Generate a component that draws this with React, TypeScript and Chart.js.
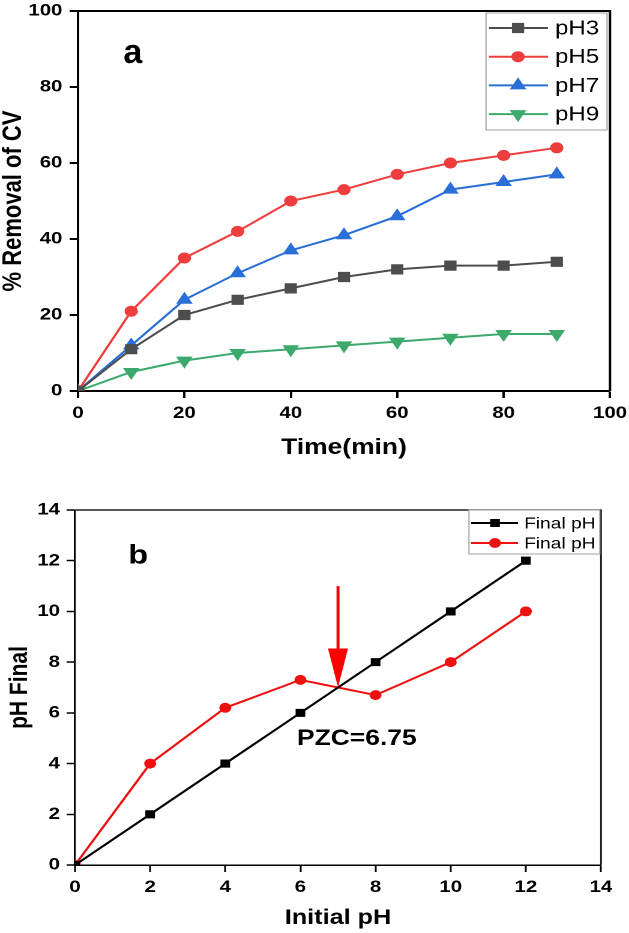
import React, { useEffect, useRef } from 'react';
import { Chart, registerables } from 'chart.js';
import { drawPoint } from 'chart.js/helpers';

Chart.register(...registerables);

// ---------- data: panel a ----------
const timeMin = [0, 10, 20, 30, 40, 50, 60, 70, 80, 90];
const removalPH3 = [0, 11, 20, 24, 27, 30, 32, 33, 33, 34];
const removalPH5 = [0, 21, 35, 42, 50, 53, 57, 60, 62, 64];
const removalPH7 = [0, 12, 24, 31, 37, 41, 46, 53, 55, 57];
const removalPH9 = [0, 5, 8, 10, 11, 12, 13, 14, 15, 15];
const seriesNamesA = ['pH3', 'pH5', 'pH7', 'pH9'];
const axisA = { xMin: 0, xMax: 100, xStep: 20, yMin: 0, yMax: 100, yStep: 20 };
const titlesA = { x: 'Time(min)', y: '% Removal of CV' };
const panelLabelA = { text: 'a', x: 10.3, y: 86.3 };

// ---------- data: panel b ----------
const initialPHBlack = [0, 2, 4, 6, 8, 10, 12];
const finalPHBlack = [0, 2, 4, 6, 8, 10, 12];
const initialPHRed = [0, 2, 4, 6, 7, 8, 10, 12];
const finalPHRed = [0, 4, 6.2, 7.3, 7.0, 6.7, 8, 10];
const seriesNamesB = ['Final pH', 'Final pH'];
const axisB = { min: 0, max: 14, step: 2 };
const titlesB = { x: 'Initial pH', y: 'pH Final' };
const panelLabelB = { text: 'b', x: 1.68, y: 11.9 };
const pzc = { text: 'PZC=6.75', labelX: 7.5, labelY: 4.73, pointX: 7, pointY: 7, arrowTopY: 11 };

// ---------- layout ----------
const S = 1.2; // horizontal stretch of the original figure
const PAGE_W = 629;
const IW = Math.round(PAGE_W / S); // internal canvas width
const SX = PAGE_W / IW; // exact css/internal ratio
const FONT = "'Liberation Sans', Arial, Helvetica, sans-serif";

const A_H = 475;
const B_TOP = 480;
const B_H = 453;

function drawLegend(chart: any, cfg: any) {
  const { ctx, chartArea } = chart;
  const left = chartArea.right - cfg.offRight - cfg.boxW;
  const top = chartArea.top + cfg.offTop;
  ctx.save();
  ctx.fillStyle = '#ffffff';
  ctx.fillRect(left, top, cfg.boxW, cfg.boxH);
  ctx.strokeStyle = '#a0a0a0';
  ctx.lineWidth = 1;
  ctx.strokeRect(left, top, cfg.boxW, cfg.boxH);
  chart.data.datasets.forEach((ds: any, i: number) => {
    const y = top + cfg.rowY0 + i * cfg.rowGap;
    ctx.strokeStyle = ds.borderColor;
    ctx.lineWidth = ds.borderWidth;
    ctx.beginPath();
    ctx.moveTo(left + cfg.lineX0, y);
    ctx.lineTo(left + cfg.lineX1, y);
    ctx.stroke();
    ctx.fillStyle = ds.pointBackgroundColor;
    ctx.strokeStyle = ds.pointBorderColor;
    ctx.lineWidth = 1;
    drawPoint(ctx, {
      pointStyle: ds.pointStyle,
      rotation: ds.pointRotation || 0,
      radius: cfg.markR[i],
      borderWidth: 1,
    } as any, left + cfg.markX, y);
    ctx.fillStyle = '#000';
    ctx.font = `${cfg.fontSize}px ${FONT}`;
    ctx.textAlign = 'left';
    ctx.textBaseline = 'middle';
    ctx.fillText(ds.label, left + cfg.textX, y + 1);
  });
  ctx.restore();
}

function drawFrame(chart: any, lw: number, color: string) {
  const { ctx, chartArea } = chart;
  ctx.save();
  ctx.strokeStyle = color;
  ctx.lineWidth = lw;
  ctx.beginPath();
  ctx.moveTo(chartArea.left, chartArea.top);
  ctx.lineTo(chartArea.right, chartArea.top);
  ctx.lineTo(chartArea.right, chartArea.bottom);
  ctx.stroke();
  ctx.restore();
}

function drawText(chart: any, text: string, x: number, y: number, size: number, compensate: boolean) {
  const { ctx, scales } = chart;
  const px = scales.x.getPixelForValue(x);
  const py = scales.y.getPixelForValue(y);
  ctx.save();
  ctx.translate(px, py);
  if (compensate) ctx.scale(1 / SX, 1);
  ctx.fillStyle = '#000';
  ctx.font = `bold ${size}px ${FONT}`;
  ctx.textAlign = 'center';
  ctx.textBaseline = 'alphabetic';
  ctx.fillText(text, 0, 0);
  ctx.restore();
}

function axisOptions(o: any) {
  return {
    type: 'linear',
    min: o.min,
    max: o.max,
    ticks: {
      stepSize: o.step,
      autoSkip: false,
      maxRotation: 0,
      color: '#000',
      padding: o.tickPad,
      font: { family: FONT, size: o.tickSize, weight: 'bold' },
    },
    grid: {
      display: true,
      drawOnChartArea: false,
      drawTicks: true,
      tickLength: 7,
      tickWidth: o.lw,
      tickColor: '#000',
    },
    border: { display: true, color: '#000', width: o.lw },
    title: {
      display: true,
      text: o.title,
      color: '#000',
      font: { family: FONT, size: o.titleSize, weight: 'bold', lineHeight: 1 },
      padding: o.titlePad,
    },
    afterFit: (s: any) => {
      o.afterFit(s);
      // the plot box is placed by layout padding, not by label overflow
      s.paddingTop = 0;
      s.paddingBottom = 0;
      s.paddingLeft = 0;
      s.paddingRight = 0;
    },
  };
}

export default function App() {
  const refA = useRef<HTMLCanvasElement | null>(null);
  const refB = useRef<HTMLCanvasElement | null>(null);

  useEffect(() => {
    Chart.defaults.font.family = FONT;
    const colorsA = ['#4d4d4d', '#ee3d3d', '#2a6fd8', '#3caa6c'];
    const valuesA = [removalPH3, removalPH5, removalPH7, removalPH9];
    const stylesA = [
      { pointStyle: 'rect', r: 6.5, rot: 0 },
      { pointStyle: 'circle', r: 5, rot: 0 },
      { pointStyle: 'triangle', r: 7, rot: 0 },
      { pointStyle: 'triangle', r: 7, rot: 180 },
    ];

    const chartA = new Chart(refA.current as HTMLCanvasElement, {
      type: 'line',
      data: {
        datasets: valuesA.map((vals, i) => ({
          label: seriesNamesA[i],
          data: timeMin.map((t, j) => ({ x: t, y: vals[j] })),
          borderColor: colorsA[i],
          backgroundColor: colorsA[i],
          pointBackgroundColor: colorsA[i],
          pointBorderColor: colorsA[i],
          borderWidth: 2,
          pointStyle: stylesA[i].pointStyle,
          pointRotation: stylesA[i].rot,
          pointRadius: stylesA[i].r,
          pointBorderWidth: 1,
          tension: 0,
        })),
      } as any,
      options: {
        responsive: false,
        maintainAspectRatio: false,
        animation: false,
        devicePixelRatio: 2,
        layout: { padding: { left: 0, top: 11, right: IW - 610 / SX, bottom: 0 } },
        plugins: { legend: { display: false }, tooltip: { enabled: false } },
        scales: {
          x: axisOptions({
            min: axisA.xMin, max: axisA.xMax, step: axisA.xStep, tickPad: 5, tickSize: 17, lw: 2,
            title: titlesA.x, titleSize: 22, titlePad: { top: 0, bottom: 16 },
            afterFit: (s: any) => { s.height = A_H - 391; },
          }),
          y: axisOptions({
            min: axisA.yMin, max: axisA.yMax, step: axisA.yStep, tickPad: 6, tickSize: 17, lw: 2,
            title: titlesA.y, titleSize: 22, titlePad: { top: 0.5, bottom: 0 },
            afterFit: (s: any) => { s.width = 78 / SX; },
          }),
        },
      } as any,
      plugins: [
        {
          id: 'decorA',
          afterDraw(chart: any) {
            drawFrame(chart, 2, '#000');
            drawLegend(chart, {
              boxW: 100.8, boxH: 117, offRight: 2.5, offTop: 2,
              rowY0: 15, rowGap: 28.7, lineX0: 2.5, lineX1: 51.7, markX: 26.7, textX: 57.5,
              fontSize: 20, markR: [6.5, 5, 7, 7],
            });
            drawText(chart, panelLabelA.text, panelLabelA.x, panelLabelA.y, 34, true);
          },
        },
      ],
    });

    const red = '#ee1111';
    const chartB = new Chart(refB.current as HTMLCanvasElement, {
      type: 'line',
      data: {
        datasets: [
          {
            label: seriesNamesB[0],
            data: initialPHBlack.map((x, j) => ({ x, y: finalPHBlack[j] })),
            borderColor: '#000',
            backgroundColor: '#000',
            pointBackgroundColor: '#000',
            pointBorderColor: '#000',
            borderWidth: 2,
            pointStyle: 'rect',
            pointRadius: 5,
            pointBorderWidth: 1,
          },
          {
            label: seriesNamesB[1],
            data: initialPHRed.map((x, j) => ({ x, y: finalPHRed[j] })),
            borderColor: red,
            backgroundColor: red,
            pointBackgroundColor: red,
            pointBorderColor: red,
            borderWidth: 2,
            pointStyle: 'circle',
            // the crossing point (odd pH) is drawn without a marker
            pointRadius: (c: any) => (c.raw && c.raw.x % 2 === 0 ? 4.5 : 0),
            pointBorderWidth: 1,
          },
        ],
      } as any,
      options: {
        responsive: false,
        maintainAspectRatio: false,
        animation: false,
        devicePixelRatio: 2,
        layout: { padding: { left: 0, top: 510 - B_TOP, right: IW - 601 / SX, bottom: 0 } },
        plugins: { legend: { display: false }, tooltip: { enabled: false } },
        scales: {
          x: axisOptions({
            min: axisB.min, max: axisB.max, step: axisB.step, tickPad: 5, tickSize: 17, lw: 1.5,
            title: titlesB.x, titleSize: 21, titlePad: { top: 0, bottom: 4.5 },
            afterFit: (s: any) => { s.height = B_H - (865 - B_TOP); },
          }),
          y: axisOptions({
            min: axisB.min, max: axisB.max, step: axisB.step, tickPad: 5.5, tickSize: 17, lw: 1.5,
            title: titlesB.y, titleSize: 21, titlePad: { top: 6, bottom: 0 },
            afterFit: (s: any) => { s.width = 75 / SX; },
          }),
        },
      } as any,
      plugins: [
        {
          id: 'decorB',
          afterDraw(chart: any) {
            const { ctx, scales } = chart;
            drawFrame(chart, 1.5, '#222');
            // arrow pointing at the PZC crossing
            const px = scales.x.getPixelForValue(pzc.pointX);
            const tip = scales.y.getPixelForValue(pzc.pointY);
            const top = scales.y.getPixelForValue(pzc.arrowTopY);
            const headLen = 39;
            const headHalf = 10 / SX;
            ctx.save();
            ctx.strokeStyle = '#ff0000';
            ctx.fillStyle = '#ff0000';
            ctx.lineWidth = 3 / SX;
            ctx.beginPath();
            ctx.moveTo(px, top);
            ctx.lineTo(px, tip - headLen + 2);
            ctx.stroke();
            ctx.beginPath();
            ctx.moveTo(px - headHalf, tip - headLen);
            ctx.lineTo(px + headHalf, tip - headLen);
            ctx.lineTo(px, tip);
            ctx.closePath();
            ctx.fill();
            ctx.restore();
            drawText(chart, pzc.text, pzc.labelX, pzc.labelY, 22, false);
            drawLegend(chart, {
              boxW: 109, boxH: 44, offRight: 1, offTop: 0,
              rowY0: 13, rowGap: 20, lineX0: 1.7, lineX1: 40.9, markX: 21.7, textX: 45.9,
              fontSize: 16, markR: [5, 4.5],
            });
            drawText(chart, panelLabelB.text, panelLabelB.x, panelLabelB.y, 27, false);
          },
        },
      ],
    });

    return () => {
      chartA.destroy();
      chartB.destroy();
    };
  }, []);

  return (
    <>
      <canvas
        ref={refA}
        width={IW}
        height={A_H}
        style={{ position: 'absolute', left: 0, top: 0, width: PAGE_W + 'px', height: A_H + 'px' }}
      />
      <canvas
        ref={refB}
        width={IW}
        height={B_H}
        style={{ position: 'absolute', left: 0, top: B_TOP + 'px', width: PAGE_W + 'px', height: B_H + 'px' }}
      />
    </>
  );
}
